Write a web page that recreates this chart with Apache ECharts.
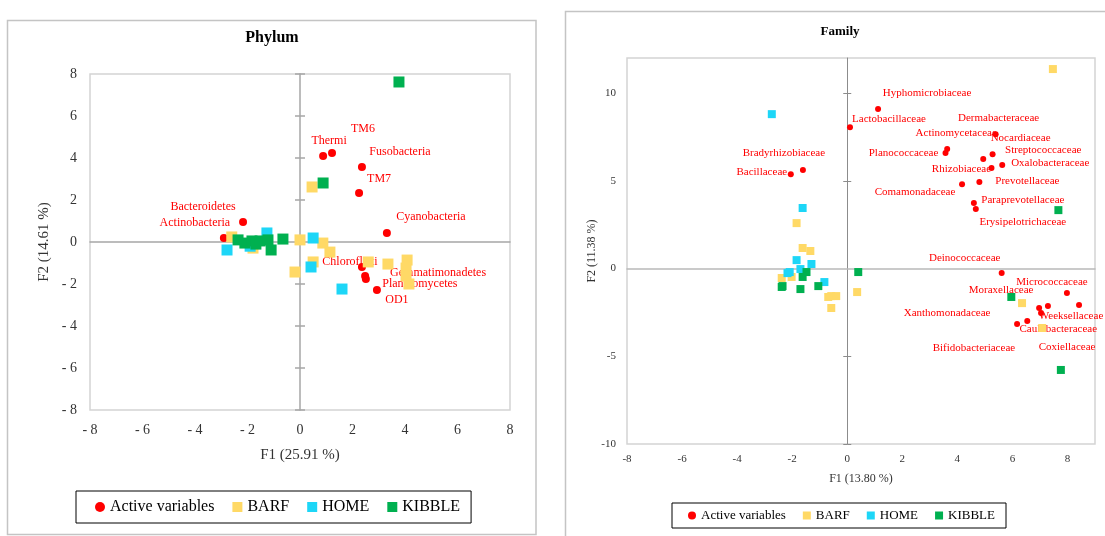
<!DOCTYPE html>
<html>
<head>
<meta charset="utf-8">
<title>Phylum and Family factor maps</title>
<script src="https://cdn.jsdelivr.net/npm/echarts@6/dist/echarts.min.js"></script>
<style>
  html, body { margin: 0; padding: 0; background: #ffffff; }
  #chart { width: 1105px; height: 536px; }
</style>
</head>
<body>
<div id="chart"></div>
<script>
// ---- Phylum level: active variables (F1, F2) ----
const phylumNames = ['Bacteroidetes', 'Actinobacteria', 'Thermi', 'TM6', 'Fusobacteria', 'TM7',
  'Cyanobacteria', 'Chloroflexi', 'Gemmatimonadetes', 'Planctomycetes', 'OD1'];
const phylumF1 = [-2.17, -2.90, 0.88, 1.22, 2.36, 2.25, 3.31, 2.36, 2.48, 2.51, 2.93];
const phylumF2 = [0.95, 0.19, 4.10, 4.24, 3.57, 2.33, 0.43, -1.19, -1.62, -1.76, -2.29];

// Phylum level: observations per diet group [F1, F2]
const phylumBarf = [[-2.60, 0.24], [-1.79, -0.29], [0.00, 0.10], [0.87, -0.05], [1.14, -0.48],
  [0.50, -0.95], [-0.19, -1.43], [2.60, -0.95], [3.35, -1.05], [4.08, -0.86], [4.04, -1.24],
  [4.04, -1.62], [4.15, -2.00], [0.46, 2.62]];
const phylumHome = [[-2.78, -0.38], [-1.26, 0.43], [0.50, 0.19], [0.42, -1.19], [1.60, -2.24],
  [-1.90, -0.20]];
const phylumKibble = [[3.77, 7.62], [0.88, 2.81], [-2.36, 0.10], [-2.10, -0.05], [-1.83, 0.05],
  [-1.68, -0.10], [-1.52, 0.05], [-1.22, 0.10], [-1.10, -0.38], [-0.65, 0.14]];

// ---- Family level: active variables (F1, F2) ----
const familyNames = ['Hyphomicrobiaceae', 'Lactobacillaceae', 'Bradyrhizobiaceae', 'Bacillaceae',
  'Actinomycetaceae', 'Planococcaceae', 'Dermabacteraceae', 'Nocardiaceae', 'Streptococcaceae',
  'Oxalobacteraceae', 'Rhizobiaceae', 'Prevotellaceae', 'Comamonadaceae', 'Paraprevotellaceae',
  'Erysipelotrichaceae', 'Deinococcaceae', 'Micrococcaceae', 'Moraxellaceae', 'Weeksellaceae',
  'Caulobacteraceae', 'Xanthomonadaceae', 'Bifidobacteriaceae', 'Coxiellaceae'];
const familyF1 = [1.12, 0.10, -1.61, -2.05, 3.63, 3.57, 5.39, 5.28, 4.94, 5.63, 5.24, 4.80, 4.17,
  4.60, 4.67, 5.61, 7.98, 6.97, 7.04, 6.54, 6.17, 7.29, 8.42];
const familyF2 = [9.09, 8.06, 5.61, 5.38, 6.81, 6.58, 7.66, 6.52, 6.24, 5.90, 5.73, 4.93, 4.81,
  3.73, 3.39, -0.26, -1.40, -2.25, -2.54, -2.99, -3.16, -2.14, -2.08];

// Family level: observations per diet group [F1, F2]
const familyBarf = [[7.47, 11.37], [-1.84, 2.59], [-1.62, 1.17], [-1.34, 1.00], [-2.38, -0.54],
  [-2.02, -0.48], [0.36, -1.34], [-0.58, -1.57], [-0.40, -1.57], [-0.69, -1.62], [-0.58, -2.25],
  [6.35, -1.97], [7.08, -3.39]];
const familyHome = [[-2.74, 8.80], [-1.62, 3.45], [-1.84, 0.48], [-1.30, 0.26], [-1.70, -0.03],
  [-2.09, -0.20], [-2.17, -0.26], [-0.83, -0.77]];
const familyKibble = [[7.67, 3.33], [-1.48, -0.20], [-1.62, -0.48], [-2.35, -1.00], [-2.38, -1.05],
  [-1.70, -1.17], [-1.05, -1.00], [0.40, -0.20], [5.96, -1.62], [7.76, -5.78]];

// Axis captions
const phylumAxisNames = ['F1 (25.91 %)', 'F2 (14.61 %)'];
const familyAxisNames = ['F1 (13.80 %)', 'F2 (11.38 %)'];
const groupNames = ['Active variables', 'BARF', 'HOME', 'KIBBLE'];

// Label placement (pixel shift of each variable name from its point)
const phylumLabelShift = [[-40, -15], [-29, -15], [6, -15], [31, -24], [38, -15], [20, -14],
  [44, -16], [-12, -5], [73, -3], [54, 5], [20, 10]];
const familyLabelShift = [[49, -16], [39, -8], [-19, -17], [-29, -2], [9, -16], [-42, 0], [3, -16],
  [28, -16], [60, -9], [48, -2], [-30, 1], [48, -1], [-47, 8], [49, -3], [47, 13], [-37, -15],
  [-15, -11], [-38, -18], [30, 3], [31, 8], [-70, -11], [-74, 42], [-12, 42]];

const SERIF = "'Liberation Serif', 'DejaVu Serif', serif";
const RED = '#ff0000', YELLOW = '#ffd966', CYAN = '#1dd6f7', GREEN = '#00b050';

function variablePoints(names, f1, f2, shifts) {
  return names.map((n, i) => ({
    name: n,
    value: [f1[i], f2[i]],
    label: { offset: shifts[i] }
  }));
}

function fmtPhylum(v) { return v < 0 ? '- ' + Math.abs(v) : String(v); }

function solid(color) { return { color: color, opacity: 1 }; }

const chart = echarts.init(document.getElementById('chart'), null, { renderer: 'canvas' });

const zeroLineL = { color: '#a6a6a6', width: 1.5 };
const zeroLineR = { color: '#b9b9b9', width: 1.5 };

function legendData() {
  return [
    { name: groupNames[0], icon: 'circle' },
    { name: groupNames[1], icon: 'rect' },
    { name: groupNames[2], icon: 'rect' },
    { name: groupNames[3], icon: 'rect' }
  ];
}

const option = {
  animation: false,
  backgroundColor: '#ffffff',
  textStyle: { fontFamily: SERIF },
  graphic: [
    { type: 'rect', shape: { x: 7.5, y: 20.5, width: 528.5, height: 514 },
      style: { fill: null, stroke: '#c4c4c4', lineWidth: 1.5 }, silent: true },
    { type: 'rect', shape: { x: 565.5, y: 11.5, width: 560, height: 540 },
      style: { fill: null, stroke: '#c4c4c4', lineWidth: 1.5 }, silent: true },
    { type: 'text', x: 272, y: 38,
      style: { text: 'Phylum', fontFamily: SERIF, fontSize: 16, fontWeight: 'bold', fill: '#000',
        align: 'center', verticalAlign: 'middle' } },
    { type: 'text', x: 840, y: 32,
      style: { text: 'Family', fontFamily: SERIF, fontSize: 13, fontWeight: 'bold', fill: '#000',
        align: 'center', verticalAlign: 'middle' } }
  ],
  grid: [
    { left: 90, top: 74, width: 420, height: 336, show: true, borderColor: '#d4d4d4',
      borderWidth: 1.5, backgroundColor: '#ffffff' },
    { left: 627, top: 58, width: 468, height: 386, show: true, borderColor: '#d4d4d4',
      borderWidth: 1.5, backgroundColor: '#ffffff' }
  ],
  legend: [
    {
      left: 76, top: 491, orient: 'horizontal',
      padding: [8, 11, 8, 19], itemGap: 18, itemWidth: 10, itemHeight: 10,
      borderColor: '#000', borderWidth: 1,
      textStyle: { fontFamily: SERIF, fontSize: 16, color: '#000' },
      selectedMode: false,
      data: legendData()
    },
    {
      left: 672, top: 503, orient: 'horizontal',
      padding: [6, 11, 6, 16], itemGap: 17, itemWidth: 8, itemHeight: 8,
      borderColor: '#000', borderWidth: 1,
      textStyle: { fontFamily: SERIF, fontSize: 13, color: '#000' },
      selectedMode: false,
      data: legendData()
    }
  ],
  xAxis: [
    { // Phylum: tick labels along the bottom edge
      gridIndex: 0, type: 'value', min: -8, max: 8, interval: 2,
      axisLine: { show: false, onZero: false }, axisTick: { show: false }, splitLine: { show: false },
      axisLabel: { margin: 13, fontSize: 14, color: '#333', fontFamily: SERIF, formatter: fmtPhylum },
      name: phylumAxisNames[0], nameLocation: 'middle', nameGap: 38,
      nameTextStyle: { fontSize: 15, color: '#333', fontFamily: SERIF }
    },
    { // Phylum: horizontal zero line
      gridIndex: 0, type: 'value', min: -8, max: 8, interval: 2, position: 'bottom',
      axisLine: { show: true, onZero: true, lineStyle: zeroLineL },
      axisTick: { show: false }, axisLabel: { show: false }, splitLine: { show: false }
    },
    { // Family: tick labels along the bottom edge
      gridIndex: 1, type: 'value', min: -8, max: 9, interval: 2,
      axisLine: { show: false, onZero: false }, axisTick: { show: false }, splitLine: { show: false },
      axisLabel: { margin: 10, fontSize: 11, color: '#333', fontFamily: SERIF, showMaxLabel: false },
      name: familyAxisNames[0], nameLocation: 'middle', nameGap: 29,
      nameTextStyle: { fontSize: 12, color: '#333', fontFamily: SERIF }
    },
    { // Family: horizontal zero line
      gridIndex: 1, type: 'value', min: -8, max: 9, interval: 2, position: 'bottom',
      axisLine: { show: true, onZero: true, lineStyle: zeroLineR },
      axisTick: { show: false }, axisLabel: { show: false }, splitLine: { show: false }
    }
  ],
  yAxis: [
    { // Phylum: tick labels along the left edge
      gridIndex: 0, type: 'value', min: -8, max: 8, interval: 2, position: 'left',
      axisLine: { show: false, onZero: false }, axisTick: { show: false }, splitLine: { show: false },
      axisLabel: { margin: 13, fontSize: 14, color: '#333', fontFamily: SERIF, formatter: fmtPhylum },
      name: phylumAxisNames[1], nameLocation: 'middle', nameGap: 38, nameRotate: 90,
      nameTextStyle: { fontSize: 15, color: '#333', fontFamily: SERIF }
    },
    { // Phylum: vertical zero line with ticks to the left
      gridIndex: 0, type: 'value', min: -8, max: 8, interval: 2, position: 'left',
      axisLine: { show: true, onZero: true, lineStyle: zeroLineL },
      axisTick: { show: true, inside: false, length: 5, lineStyle: zeroLineL },
      axisLabel: { show: false }, splitLine: { show: false }
    },
    { // Phylum: ticks to the right of the zero line
      gridIndex: 0, type: 'value', min: -8, max: 8, interval: 2, position: 'left',
      axisLine: { show: false, onZero: true },
      axisTick: { show: true, inside: true, length: 5, lineStyle: zeroLineL },
      axisLabel: { show: false }, splitLine: { show: false }
    },
    { // Family: tick labels along the left edge
      gridIndex: 1, type: 'value', min: -10, max: 12, interval: 5, position: 'left',
      axisLine: { show: false, onZero: false }, axisTick: { show: false }, splitLine: { show: false },
      axisLabel: { margin: 11, fontSize: 11, color: '#333', fontFamily: SERIF, showMaxLabel: false },
      name: familyAxisNames[1], nameLocation: 'middle', nameGap: 29, nameRotate: 90,
      nameTextStyle: { fontSize: 12, color: '#333', fontFamily: SERIF }
    },
    { // Family: vertical zero line with ticks to the left
      gridIndex: 1, type: 'value', min: -10, max: 12, interval: 5, position: 'left',
      axisLine: { show: true, onZero: true, lineStyle: { color: '#8c8c8c', width: 1 } },
      axisTick: { show: true, inside: false, length: 4, customValues: [-10, -5, 5, 10],
        lineStyle: { color: '#8c8c8c', width: 1 } },
      axisLabel: { show: false }, splitLine: { show: false }
    },
    { // Family: ticks to the right of the zero line
      gridIndex: 1, type: 'value', min: -10, max: 12, interval: 5, position: 'left',
      axisLine: { show: false, onZero: true },
      axisTick: { show: true, inside: true, length: 4, customValues: [-10, -5, 5, 10],
        lineStyle: { color: '#8c8c8c', width: 1 } },
      axisLabel: { show: false }, splitLine: { show: false }
    }
  ],
  series: [
    // ---- Phylum ----
    {
      name: groupNames[0], type: 'scatter', xAxisIndex: 0, yAxisIndex: 0, z: 2,
      symbol: 'circle', symbolSize: 8, itemStyle: solid(RED),
      label: { show: true, position: 'inside', formatter: '{b}', color: RED, fontSize: 12,
        fontFamily: SERIF, align: 'center', verticalAlign: 'middle' },
      data: variablePoints(phylumNames, phylumF1, phylumF2, phylumLabelShift)
    },
    { name: groupNames[1], type: 'scatter', xAxisIndex: 0, yAxisIndex: 0, z: 3,
      symbol: 'rect', symbolSize: 11, itemStyle: solid(YELLOW), data: phylumBarf },
    { name: groupNames[2], type: 'scatter', xAxisIndex: 0, yAxisIndex: 0, z: 3,
      symbol: 'rect', symbolSize: 11, itemStyle: solid(CYAN), data: phylumHome },
    { name: groupNames[3], type: 'scatter', xAxisIndex: 0, yAxisIndex: 0, z: 3,
      symbol: 'rect', symbolSize: 11, itemStyle: solid(GREEN), data: phylumKibble },
    // ---- Family ----
    {
      name: groupNames[0], type: 'scatter', xAxisIndex: 2, yAxisIndex: 3, z: 2,
      symbol: 'circle', symbolSize: 6, itemStyle: solid(RED),
      label: { show: true, position: 'inside', formatter: '{b}', color: RED, fontSize: 11,
        fontFamily: SERIF, align: 'center', verticalAlign: 'middle' },
      data: variablePoints(familyNames, familyF1, familyF2, familyLabelShift)
    },
    { name: groupNames[1], type: 'scatter', xAxisIndex: 2, yAxisIndex: 3, z: 3,
      symbol: 'rect', symbolSize: 8, itemStyle: solid(YELLOW), data: familyBarf },
    { name: groupNames[2], type: 'scatter', xAxisIndex: 2, yAxisIndex: 3, z: 3,
      symbol: 'rect', symbolSize: 8, itemStyle: solid(CYAN), data: familyHome },
    { name: groupNames[3], type: 'scatter', xAxisIndex: 2, yAxisIndex: 3, z: 3,
      symbol: 'rect', symbolSize: 8, itemStyle: solid(GREEN), data: familyKibble }
  ]
};

chart.setOption(option);
</script>
</body>
</html>
